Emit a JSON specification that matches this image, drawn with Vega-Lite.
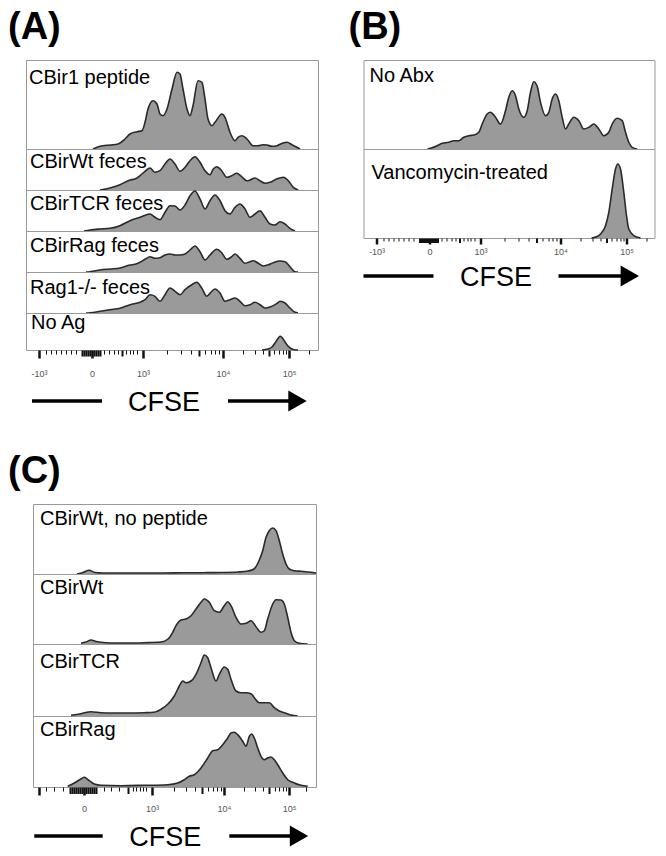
{
"$schema": "https://vega.github.io/schema/vega-lite/v6.json",
"background": "white",
"padding": {"left": 8, "top": 8, "right": 4, "bottom": 0},
"config": {"font": "Liberation Sans", "view": {"stroke": "#999999", "strokeWidth": 1}},
"datasets": {
"A1": [{"channel":67,"count":0},{"channel":74,"count":2.7},{"channel":84,"count":4},{"channel":92,"count":5},{"channel":99,"count":10},{"channel":104,"count":15},{"channel":111,"count":17.3},{"channel":116,"count":18.3},{"channel":119,"count":26.7},{"channel":122,"count":40},{"channel":127,"count":48.3},{"channel":131,"count":45},{"channel":134,"count":35},{"channel":137,"count":33.3},{"channel":141,"count":40},{"channel":146,"count":60},{"channel":151,"count":76.7},{"channel":154,"count":75},{"channel":157,"count":60},{"channel":161,"count":40},{"channel":164,"count":33.3},{"channel":167,"count":43.3},{"channel":172,"count":68.3},{"channel":176,"count":66.7},{"channel":179,"count":50},{"channel":182,"count":30},{"channel":186,"count":23.3},{"channel":189,"count":26.7},{"channel":196,"count":35},{"channel":199,"count":31.7},{"channel":204,"count":16.7},{"channel":209,"count":8.3},{"channel":212,"count":11.7},{"channel":216,"count":13.3},{"channel":221,"count":10},{"channel":227,"count":3.3},{"channel":232,"count":3.3},{"channel":237,"count":4.3},{"channel":241,"count":4},{"channel":246,"count":2.7},{"channel":251,"count":3.3},{"channel":257,"count":6},{"channel":261,"count":6.7},{"channel":266,"count":4.3},{"channel":271,"count":1.7},{"channel":274,"count":0}],
"A2": [{"channel":74,"count":0},{"channel":84,"count":2},{"channel":94,"count":5.3},{"channel":104,"count":10},{"channel":109,"count":11},{"channel":114,"count":14.3},{"channel":119,"count":18.7},{"channel":124,"count":22},{"channel":129,"count":17.7},{"channel":134,"count":19.3},{"channel":139,"count":26},{"channel":144,"count":31},{"channel":149,"count":26},{"channel":154,"count":18.7},{"channel":159,"count":22.7},{"channel":164,"count":29.3},{"channel":169,"count":33.3},{"channel":174,"count":27.7},{"channel":179,"count":19.3},{"channel":184,"count":15.3},{"channel":187.3,"count":21},{"channel":190.7,"count":23.3},{"channel":195.7,"count":19.3},{"channel":200.7,"count":12.7},{"channel":205.7,"count":14.3},{"channel":210.7,"count":16.7},{"channel":215.7,"count":13.3},{"channel":220.7,"count":9.3},{"channel":224,"count":10},{"channel":229,"count":12},{"channel":234,"count":9.3},{"channel":239,"count":6.7},{"channel":244,"count":7.7},{"channel":250.7,"count":11},{"channel":257.3,"count":12.7},{"channel":262.3,"count":9.3},{"channel":267.3,"count":2.7},{"channel":272.3,"count":0}],
"A3": [{"channel":58,"count":0},{"channel":64,"count":1},{"channel":74,"count":2},{"channel":84,"count":2.7},{"channel":94,"count":5.3},{"channel":104,"count":10.3},{"channel":114,"count":13.7},{"channel":124,"count":17},{"channel":129,"count":13.7},{"channel":134,"count":11.3},{"channel":139,"count":18.7},{"channel":144,"count":25.3},{"channel":149,"count":25},{"channel":154,"count":21},{"channel":159,"count":26},{"channel":164,"count":35.3},{"channel":169,"count":40},{"channel":174,"count":32},{"channel":179,"count":22},{"channel":184,"count":30.3},{"channel":189,"count":36},{"channel":194,"count":30.3},{"channel":199,"count":20.3},{"channel":204,"count":17},{"channel":209,"count":23.7},{"channel":214,"count":27},{"channel":219,"count":22},{"channel":224,"count":13.7},{"channel":229,"count":17},{"channel":234,"count":20.3},{"channel":239,"count":13.7},{"channel":244,"count":7},{"channel":249,"count":6},{"channel":254,"count":9.3},{"channel":259,"count":7},{"channel":264,"count":2.7},{"channel":269,"count":0}],
"A4": [{"channel":60,"count":0},{"channel":64,"count":0.3},{"channel":74,"count":2},{"channel":84,"count":3},{"channel":94,"count":4},{"channel":104,"count":7},{"channel":109,"count":7.7},{"channel":114,"count":9.7},{"channel":119,"count":12.7},{"channel":124,"count":15.3},{"channel":129,"count":13.7},{"channel":134,"count":14.3},{"channel":139,"count":17},{"channel":144,"count":18},{"channel":149,"count":17},{"channel":154,"count":17},{"channel":159,"count":18},{"channel":164,"count":22},{"channel":169,"count":26},{"channel":174,"count":20.3},{"channel":179,"count":12},{"channel":184,"count":17},{"channel":190.7,"count":22.7},{"channel":195.7,"count":19.3},{"channel":200.7,"count":12.7},{"channel":205.7,"count":15.3},{"channel":209,"count":18},{"channel":214,"count":13.7},{"channel":219,"count":8.7},{"channel":224,"count":10.3},{"channel":227.3,"count":11.3},{"channel":232.3,"count":8.7},{"channel":237.3,"count":6},{"channel":242.3,"count":7.3},{"channel":247.3,"count":9.3},{"channel":254,"count":11},{"channel":259,"count":10.3},{"channel":264,"count":5.3},{"channel":269,"count":0.3},{"channel":272,"count":0}],
"A5": [{"channel":60,"count":0},{"channel":64,"count":0.3},{"channel":74,"count":1.7},{"channel":84,"count":3.3},{"channel":94,"count":4.7},{"channel":104,"count":8.3},{"channel":114,"count":10.7},{"channel":119,"count":13.3},{"channel":124,"count":18.3},{"channel":129,"count":16.7},{"channel":134,"count":11.7},{"channel":139,"count":18.3},{"channel":144,"count":25},{"channel":149,"count":21.7},{"channel":154,"count":18.3},{"channel":159,"count":23.3},{"channel":165.7,"count":28.3},{"channel":170.7,"count":30.7},{"channel":175.7,"count":25},{"channel":180.7,"count":16.7},{"channel":185.7,"count":21.7},{"channel":189,"count":24},{"channel":194,"count":20},{"channel":199,"count":11.7},{"channel":204,"count":13.3},{"channel":209,"count":15},{"channel":214,"count":11.7},{"channel":219,"count":7.3},{"channel":224,"count":8.3},{"channel":229,"count":10.7},{"channel":234,"count":8.3},{"channel":239,"count":5},{"channel":244,"count":6},{"channel":250.7,"count":9.3},{"channel":254,"count":11.7},{"channel":259,"count":10},{"channel":264,"count":5},{"channel":269,"count":0.7},{"channel":272,"count":0}],
"A6": [{"channel":236,"count":0},{"channel":242,"count":1},{"channel":246,"count":3},{"channel":249,"count":7},{"channel":252,"count":11.5},{"channel":254,"count":13.7},{"channel":256,"count":12.5},{"channel":259,"count":8},{"channel":262,"count":4},{"channel":265,"count":1.5},{"channel":268,"count":0.3},{"channel":272,"count":0}],
"B1": [{"channel":64,"count":0},{"channel":67,"count":0.7},{"channel":73.7,"count":3.3},{"channel":78.7,"count":5.7},{"channel":85.3,"count":6.7},{"channel":90.3,"count":8.3},{"channel":95.3,"count":8.3},{"channel":100.3,"count":11.7},{"channel":105.3,"count":13.3},{"channel":110.3,"count":14},{"channel":115.3,"count":16.7},{"channel":118.7,"count":25},{"channel":123.7,"count":35},{"channel":127,"count":36.7},{"channel":132,"count":31.7},{"channel":137,"count":25},{"channel":142,"count":38.3},{"channel":145.3,"count":51.7},{"channel":148.7,"count":58.3},{"channel":152,"count":53.3},{"channel":155.3,"count":40},{"channel":160.3,"count":31.7},{"channel":163.7,"count":38.3},{"channel":167,"count":56.7},{"channel":170.3,"count":67.3},{"channel":173.7,"count":62.7},{"channel":177,"count":46.7},{"channel":182,"count":33.3},{"channel":185.3,"count":36.7},{"channel":188.7,"count":50},{"channel":192,"count":55},{"channel":195.3,"count":48.3},{"channel":198.7,"count":31.7},{"channel":202,"count":20},{"channel":205.3,"count":25},{"channel":210.3,"count":31.7},{"channel":215.3,"count":28.3},{"channel":220.3,"count":20},{"channel":225.3,"count":21.7},{"channel":230.3,"count":25},{"channel":235.3,"count":20},{"channel":240.3,"count":13.3},{"channel":245.3,"count":16.7},{"channel":248.7,"count":25},{"channel":253.7,"count":30.7},{"channel":258.7,"count":28.3},{"channel":262,"count":16.7},{"channel":265.3,"count":6.7},{"channel":268.7,"count":1.7},{"channel":273.7,"count":0}],
"B2": [{"channel":228,"count":0},{"channel":233.7,"count":1.5},{"channel":237,"count":4},{"channel":242,"count":12.3},{"channel":245.3,"count":25.7},{"channel":248.7,"count":49},{"channel":252,"count":69},{"channel":254.3,"count":74},{"channel":257,"count":69},{"channel":260.3,"count":45.7},{"channel":263,"count":22.3},{"channel":265.3,"count":9},{"channel":270.3,"count":2.3},{"channel":277,"count":0}],
"C1": [{"channel":44,"count":0},{"channel":50,"count":1.5},{"channel":56,"count":3.7},{"channel":62,"count":1.5},{"channel":70,"count":1},{"channel":90,"count":1},{"channel":110,"count":1},{"channel":130,"count":1},{"channel":150,"count":1.2},{"channel":170,"count":1.3},{"channel":190,"count":1.5},{"channel":205,"count":2},{"channel":215,"count":3},{"channel":221,"count":5},{"channel":226,"count":13.3},{"channel":229.7,"count":23.3},{"channel":233,"count":36.7},{"channel":236.3,"count":43.3},{"channel":239.7,"count":46},{"channel":243,"count":43.3},{"channel":246.3,"count":33.3},{"channel":249.7,"count":20},{"channel":253,"count":10},{"channel":256.3,"count":5},{"channel":261.3,"count":3.3},{"channel":268,"count":2.7},{"channel":278,"count":1.7},{"channel":283,"count":1}],
"C2": [{"channel":48,"count":0.7},{"channel":53,"count":2},{"channel":58,"count":4},{"channel":63,"count":2.5},{"channel":68,"count":1.7},{"channel":78,"count":1},{"channel":95,"count":1},{"channel":111,"count":1.3},{"channel":128,"count":2},{"channel":135,"count":5},{"channel":139.7,"count":11.7},{"channel":143,"count":18.3},{"channel":148,"count":24},{"channel":153,"count":25},{"channel":158,"count":28.3},{"channel":163,"count":35},{"channel":168,"count":41.7},{"channel":171.3,"count":45},{"channel":176.3,"count":41.7},{"channel":181.3,"count":33.3},{"channel":186.3,"count":31.7},{"channel":191.3,"count":38.3},{"channel":194.7,"count":42.3},{"channel":198,"count":38.3},{"channel":203,"count":26.7},{"channel":208,"count":20},{"channel":213,"count":20.7},{"channel":218,"count":23.3},{"channel":223,"count":17.3},{"channel":228,"count":11.7},{"channel":231.3,"count":13.3},{"channel":234.7,"count":25},{"channel":239.7,"count":40},{"channel":243,"count":44.3},{"channel":248,"count":44},{"channel":251.3,"count":40},{"channel":254.7,"count":26.7},{"channel":258,"count":11.7},{"channel":261.3,"count":3.3},{"channel":266.3,"count":0.7},{"channel":274.7,"count":0}],
"C3": [{"channel":38,"count":0.7},{"channel":48,"count":2.3},{"channel":58,"count":4.3},{"channel":68,"count":3.3},{"channel":78,"count":3},{"channel":95,"count":3},{"channel":111,"count":3.3},{"channel":121,"count":3.7},{"channel":128,"count":6.7},{"channel":134.7,"count":11.7},{"channel":141.3,"count":20},{"channel":146.3,"count":30},{"channel":149.7,"count":35},{"channel":153,"count":33.3},{"channel":158,"count":35},{"channel":163,"count":41.7},{"channel":168,"count":53.3},{"channel":171.3,"count":61},{"channel":174.7,"count":58.3},{"channel":178,"count":48.3},{"channel":183,"count":35},{"channel":186.3,"count":41.7},{"channel":191.3,"count":49},{"channel":194.7,"count":46.7},{"channel":198,"count":36.7},{"channel":203,"count":25},{"channel":208,"count":23.3},{"channel":213,"count":23.3},{"channel":218,"count":22.3},{"channel":221.3,"count":18.3},{"channel":226.3,"count":13.3},{"channel":231.3,"count":13.3},{"channel":236.3,"count":13.3},{"channel":241.3,"count":8.3},{"channel":246.3,"count":5},{"channel":251.3,"count":3.3},{"channel":258,"count":1},{"channel":264.7,"count":0}],
"C4": [{"channel":34.7,"count":0.7},{"channel":41.3,"count":4},{"channel":48,"count":8},{"channel":51.3,"count":9.7},{"channel":56.3,"count":6.3},{"channel":61.3,"count":3},{"channel":68,"count":1.7},{"channel":88,"count":1.3},{"channel":111.3,"count":1.7},{"channel":134.7,"count":2.3},{"channel":144.7,"count":4},{"channel":151.3,"count":7.3},{"channel":156.3,"count":10.7},{"channel":161.3,"count":12.3},{"channel":168,"count":19},{"channel":174.7,"count":29},{"channel":179.7,"count":36.3},{"channel":184.7,"count":37.3},{"channel":189.7,"count":42.3},{"channel":194.7,"count":49},{"channel":198,"count":54},{"channel":201.3,"count":54.7},{"channel":204.7,"count":52.3},{"channel":209.7,"count":45.7},{"channel":213,"count":40.7},{"channel":216.3,"count":50.7},{"channel":218.7,"count":53},{"channel":221.3,"count":49},{"channel":224.7,"count":39},{"channel":228,"count":30.7},{"channel":231.3,"count":27.3},{"channel":234.7,"count":29},{"channel":238,"count":30},{"channel":241.3,"count":27.3},{"channel":244.7,"count":22.3},{"channel":249.7,"count":14},{"channel":254.7,"count":7.3},{"channel":261.3,"count":4},{"channel":268,"count":1.7},{"channel":274.7,"count":0.7}]
},
"spacing": 32,
"vconcat": [
{"hconcat": [
 {"title": {"text": "(A)", "anchor": "start", "frame": "group", "dx": -18, "offset": -17, "fontSize": 38, "fontWeight": "bold", "color": "black", "baseline": "alphabetic"},
  "bounds": "flush", "spacing": 0,
  "vconcat": [
   {"width": 292, "height": 89, "data": {"name": "A1"},
    "layer": [
     {"mark": {"type": "area", "interpolate": "monotone", "color": "#9a9a9a"}, "encoding": {"x": {"field": "channel", "type": "quantitative", "scale": {"domain": [0, 292], "nice": false}, "axis": null}, "y": {"field": "count", "type": "quantitative", "scale": {"domain": [0, 89], "nice": false}, "axis": null}}},
     {"mark": {"type": "line", "interpolate": "monotone", "color": "#2a2a2a", "strokeWidth": 1.6}, "encoding": {"x": {"field": "channel", "type": "quantitative", "axis": null}, "y": {"field": "count", "type": "quantitative", "axis": null}}},
     {"transform": [{"aggregate": [{"op": "count", "as": "n"}]}], "mark": {"type": "text", "text": "CBir1 peptide", "align": "left", "baseline": "alphabetic", "fontSize": 20, "color": "black"}, "encoding": {"x": {"datum": 3, "axis": null}, "y": {"datum": 65, "axis": null}}}
    ]},
   {"width": 292, "height": 41, "data": {"name": "A2"},
    "layer": [
     {"mark": {"type": "area", "interpolate": "monotone", "color": "#9a9a9a"}, "encoding": {"x": {"field": "channel", "type": "quantitative", "scale": {"domain": [0, 292], "nice": false}, "axis": null}, "y": {"field": "count", "type": "quantitative", "scale": {"domain": [0, 41], "nice": false}, "axis": null}}},
     {"mark": {"type": "line", "interpolate": "monotone", "color": "#2a2a2a", "strokeWidth": 1.6}, "encoding": {"x": {"field": "channel", "type": "quantitative", "axis": null}, "y": {"field": "count", "type": "quantitative", "axis": null}}},
     {"transform": [{"aggregate": [{"op": "count", "as": "n"}]}], "mark": {"type": "text", "text": "CBirWt feces", "align": "left", "baseline": "alphabetic", "fontSize": 20, "color": "black"}, "encoding": {"x": {"datum": 4, "axis": null}, "y": {"datum": 22.5, "axis": null}}}
    ]},
   {"width": 292, "height": 41, "data": {"name": "A3"},
    "layer": [
     {"mark": {"type": "area", "interpolate": "monotone", "color": "#9a9a9a"}, "encoding": {"x": {"field": "channel", "type": "quantitative", "scale": {"domain": [0, 292], "nice": false}, "axis": null}, "y": {"field": "count", "type": "quantitative", "scale": {"domain": [0, 41], "nice": false}, "axis": null}}},
     {"mark": {"type": "line", "interpolate": "monotone", "color": "#2a2a2a", "strokeWidth": 1.6}, "encoding": {"x": {"field": "channel", "type": "quantitative", "axis": null}, "y": {"field": "count", "type": "quantitative", "axis": null}}},
     {"transform": [{"aggregate": [{"op": "count", "as": "n"}]}], "mark": {"type": "text", "text": "CBirTCR feces", "align": "left", "baseline": "alphabetic", "fontSize": 20, "color": "black"}, "encoding": {"x": {"datum": 4, "axis": null}, "y": {"datum": 21, "axis": null}}}
    ]},
   {"width": 292, "height": 41, "data": {"name": "A4"},
    "layer": [
     {"mark": {"type": "area", "interpolate": "monotone", "color": "#9a9a9a"}, "encoding": {"x": {"field": "channel", "type": "quantitative", "scale": {"domain": [0, 292], "nice": false}, "axis": null}, "y": {"field": "count", "type": "quantitative", "scale": {"domain": [0, 41], "nice": false}, "axis": null}}},
     {"mark": {"type": "line", "interpolate": "monotone", "color": "#2a2a2a", "strokeWidth": 1.6}, "encoding": {"x": {"field": "channel", "type": "quantitative", "axis": null}, "y": {"field": "count", "type": "quantitative", "axis": null}}},
     {"transform": [{"aggregate": [{"op": "count", "as": "n"}]}], "mark": {"type": "text", "text": "CBirRag feces", "align": "left", "baseline": "alphabetic", "fontSize": 20, "color": "black"}, "encoding": {"x": {"datum": 4, "axis": null}, "y": {"datum": 20, "axis": null}}}
    ]},
   {"width": 292, "height": 41, "data": {"name": "A5"},
    "layer": [
     {"mark": {"type": "area", "interpolate": "monotone", "color": "#9a9a9a"}, "encoding": {"x": {"field": "channel", "type": "quantitative", "scale": {"domain": [0, 292], "nice": false}, "axis": null}, "y": {"field": "count", "type": "quantitative", "scale": {"domain": [0, 41], "nice": false}, "axis": null}}},
     {"mark": {"type": "line", "interpolate": "monotone", "color": "#2a2a2a", "strokeWidth": 1.6}, "encoding": {"x": {"field": "channel", "type": "quantitative", "axis": null}, "y": {"field": "count", "type": "quantitative", "axis": null}}},
     {"transform": [{"aggregate": [{"op": "count", "as": "n"}]}], "mark": {"type": "text", "text": "Rag1-/- feces", "align": "left", "baseline": "alphabetic", "fontSize": 20, "color": "black"}, "encoding": {"x": {"datum": 4, "axis": null}, "y": {"datum": 19.5, "axis": null}}}
    ]},
   {"width": 292, "height": 37, "data": {"name": "A6"}, "resolve": {"axis": {"x": "independent"}},
    "layer": [
     {"mark": {"type": "area", "interpolate": "monotone", "color": "#9a9a9a"},
      "encoding": {"x": {"field": "channel", "type": "quantitative", "scale": {"domain": [0, 292], "nice": false},
        "axis": {"orient": "bottom", "values": [13,66,117,197,263], "labelExpr": "datum.value == 13 ? '-10³' : datum.value == 66 ? '0' : datum.value == 117 ? '10³' : datum.value == 197 ? '10⁴' : '10⁵'", "tickSize": 8, "tickWidth": 2.5, "tickColor": "#111111", "domain": false, "grid": false, "title": null, "labelFontSize": 9, "labelColor": "#555555", "labelPadding": 11, "labelOverlap": false, "labelFlush": false, "labelBound": false, "labelAngle": 0}},
       "y": {"field": "count", "type": "quantitative", "scale": {"domain": [0, 37], "nice": false}, "axis": null}}},
     {"mark": {"type": "line", "interpolate": "monotone", "color": "#2a2a2a", "strokeWidth": 1.6},
      "encoding": {"x": {"field": "channel", "type": "quantitative",
        "axis": {"orient": "bottom", "values": [20,25,30,35,40,45,50,78,83,88,92,100,104,107,111,141.1,155.2,165.2,179.3,184.6,189.3,193.3,216.9,228.5,236.7,248.4,252.8,256.6,260,282.9], "labels": false, "tickSize": 4, "tickWidth": 1, "tickColor": "#111111", "domain": false, "grid": false, "title": null}},
       "y": {"field": "count", "type": "quantitative", "axis": null}}},
     {"transform": [{"aggregate": [{"op": "count", "as": "n"}]}], "mark": {"type": "text", "text": "No Ag", "align": "left", "baseline": "alphabetic", "fontSize": 20, "color": "black"},
      "encoding": {"x": {"datum": 5, "axis": {"orient": "bottom", "values": [56,58,60,62,64,68,70,72,74,96,172.9,243.1], "labels": false, "tickSize": 6, "tickWidth": 2, "tickColor": "#111111", "domain": false, "grid": false, "title": null}}, "y": {"datum": 21, "axis": null}}}
    ]},
   {"width": 292, "height": 70, "view": {"stroke": null}, "data": {"values": [{"label": "CFSE"}]},
    "layer": [
     {"mark": {"type": "rule", "strokeWidth": 3.5, "color": "black"}, "encoding": {"x": {"datum": 6, "scale": {"domain": [0, 292], "nice": false}, "axis": null}, "x2": {"datum": 76}, "y": {"datum": 51, "scale": {"domain": [0, 70], "nice": false, "reverse": true}, "axis": null}}},
     {"mark": {"type": "rule", "strokeWidth": 3.5, "color": "black"}, "encoding": {"x": {"datum": 202, "axis": null}, "x2": {"datum": 271}, "y": {"datum": 51, "axis": null}}},
     {"mark": {"type": "point", "shape": "triangle-right", "filled": true, "color": "black", "opacity": 1, "size": 450}, "encoding": {"x": {"datum": 271.5, "axis": null}, "y": {"datum": 51, "axis": null}}},
     {"mark": {"type": "text", "fontSize": 27, "align": "center", "baseline": "alphabetic", "color": "black"}, "encoding": {"text": {"field": "label"}, "x": {"datum": 138, "axis": null}, "y": {"datum": 60.7, "axis": null}}}
    ]}
  ]},
 {"title": {"text": "(B)", "anchor": "start", "frame": "group", "dx": -15, "offset": -17, "fontSize": 38, "fontWeight": "bold", "color": "black", "baseline": "alphabetic"},
  "bounds": "flush", "spacing": 0,
  "vconcat": [
   {"width": 291, "height": 89, "data": {"name": "B1"},
    "layer": [
     {"mark": {"type": "area", "interpolate": "monotone", "color": "#9a9a9a"}, "encoding": {"x": {"field": "channel", "type": "quantitative", "scale": {"domain": [0, 291], "nice": false}, "axis": null}, "y": {"field": "count", "type": "quantitative", "scale": {"domain": [0, 89], "nice": false}, "axis": null}}},
     {"mark": {"type": "line", "interpolate": "monotone", "color": "#2a2a2a", "strokeWidth": 1.6}, "encoding": {"x": {"field": "channel", "type": "quantitative", "axis": null}, "y": {"field": "count", "type": "quantitative", "axis": null}}},
     {"transform": [{"aggregate": [{"op": "count", "as": "n"}]}], "mark": {"type": "text", "text": "No Abx", "align": "left", "baseline": "alphabetic", "fontSize": 20, "color": "black"}, "encoding": {"x": {"datum": 6, "axis": null}, "y": {"datum": 67, "axis": null}}}
    ]},
   {"width": 291, "height": 89, "data": {"name": "B2"}, "resolve": {"axis": {"x": "independent"}},
    "layer": [
     {"mark": {"type": "area", "interpolate": "monotone", "color": "#9a9a9a"},
      "encoding": {"x": {"field": "channel", "type": "quantitative", "scale": {"domain": [0, 291], "nice": false},
        "axis": {"orient": "bottom", "values": [13,66,117,197,263], "labelExpr": "datum.value == 13 ? '-10³' : datum.value == 66 ? '0' : datum.value == 117 ? '10³' : datum.value == 197 ? '10⁴' : '10⁵'", "tickSize": 6, "tickWidth": 2.5, "tickColor": "#111111", "domain": false, "grid": false, "title": null, "labelFontSize": 9, "labelColor": "#555555", "labelPadding": 3, "labelOverlap": false, "labelFlush": false, "labelBound": false, "labelAngle": 0}},
       "y": {"field": "count", "type": "quantitative", "scale": {"domain": [0, 89], "nice": false}, "axis": null}}},
     {"mark": {"type": "line", "interpolate": "monotone", "color": "#2a2a2a", "strokeWidth": 1.6},
      "encoding": {"x": {"field": "channel", "type": "quantitative",
        "axis": {"orient": "bottom", "values": [20,25,30,35,40,45,50,78,83,88,92,100,104,107,111,141.1,155.2,165.2,179.3,184.6,189.3,193.3,216.9,228.5,236.7,248.4,252.8,256.6,260,282.9], "labels": false, "tickSize": 3, "tickWidth": 1, "tickColor": "#111111", "domain": false, "grid": false, "title": null}},
       "y": {"field": "count", "type": "quantitative", "axis": null}}},
     {"transform": [{"aggregate": [{"op": "count", "as": "n"}]}], "mark": {"type": "text", "text": "Vancomycin-treated", "align": "left", "baseline": "alphabetic", "fontSize": 20, "color": "black"},
      "encoding": {"x": {"datum": 8, "axis": {"orient": "bottom", "values": [56,58,60,62,64,68,70,72,74,96,172.9,243.1], "labels": false, "tickSize": 4.5, "tickWidth": 2, "tickColor": "#111111", "domain": false, "grid": false, "title": null}}, "y": {"datum": 59, "axis": null}}}
    ]},
   {"width": 291, "height": 70, "view": {"stroke": null}, "data": {"values": [{"label": "CFSE"}]},
    "layer": [
     {"mark": {"type": "rule", "strokeWidth": 3.5, "color": "black"}, "encoding": {"x": {"datum": 0, "scale": {"domain": [0, 291], "nice": false}, "axis": null}, "x2": {"datum": 70}, "y": {"datum": 38, "scale": {"domain": [0, 70], "nice": false, "reverse": true}, "axis": null}}},
     {"mark": {"type": "rule", "strokeWidth": 3.5, "color": "black"}, "encoding": {"x": {"datum": 195, "axis": null}, "x2": {"datum": 266}, "y": {"datum": 38, "axis": null}}},
     {"mark": {"type": "point", "shape": "triangle-right", "filled": true, "color": "black", "opacity": 1, "size": 450}, "encoding": {"x": {"datum": 266.3, "axis": null}, "y": {"datum": 38, "axis": null}}},
     {"mark": {"type": "text", "fontSize": 27, "align": "center", "baseline": "alphabetic", "color": "black"}, "encoding": {"text": {"field": "label"}, "x": {"datum": 132.5, "axis": null}, "y": {"datum": 47.7, "axis": null}}}
    ]}
  ]}
 ], "spacing": 29.5},
{"title": {"text": "(C)", "anchor": "start", "frame": "group", "dx": -18, "offset": -17, "fontSize": 38, "fontWeight": "bold", "color": "black", "baseline": "alphabetic"},
 "spacing": 5,
 "hconcat": [
  {"width": 1, "height": 1, "view": {"stroke": null}, "data": {"values": []}, "mark": {"type": "point", "opacity": 0}},
  {"bounds": "flush", "spacing": 0,
  "vconcat": [
   {"width": 283, "height": 70, "data": {"name": "C1"},
    "layer": [
     {"mark": {"type": "area", "interpolate": "monotone", "color": "#9a9a9a"}, "encoding": {"x": {"field": "channel", "type": "quantitative", "scale": {"domain": [0, 283], "nice": false}, "axis": null}, "y": {"field": "count", "type": "quantitative", "scale": {"domain": [0, 70], "nice": false}, "axis": null}}},
     {"mark": {"type": "line", "interpolate": "monotone", "color": "#2a2a2a", "strokeWidth": 1.6}, "encoding": {"x": {"field": "channel", "type": "quantitative", "axis": null}, "y": {"field": "count", "type": "quantitative", "axis": null}}},
     {"transform": [{"aggregate": [{"op": "count", "as": "n"}]}], "mark": {"type": "text", "text": "CBirWt, no peptide", "align": "left", "baseline": "alphabetic", "fontSize": 20, "color": "black"}, "encoding": {"x": {"datum": 7, "axis": null}, "y": {"datum": 49, "axis": null}}}
    ]},
   {"width": 283, "height": 70, "data": {"name": "C2"},
    "layer": [
     {"mark": {"type": "area", "interpolate": "monotone", "color": "#9a9a9a"}, "encoding": {"x": {"field": "channel", "type": "quantitative", "scale": {"domain": [0, 283], "nice": false}, "axis": null}, "y": {"field": "count", "type": "quantitative", "scale": {"domain": [0, 70], "nice": false}, "axis": null}}},
     {"mark": {"type": "line", "interpolate": "monotone", "color": "#2a2a2a", "strokeWidth": 1.6}, "encoding": {"x": {"field": "channel", "type": "quantitative", "axis": null}, "y": {"field": "count", "type": "quantitative", "axis": null}}},
     {"transform": [{"aggregate": [{"op": "count", "as": "n"}]}], "mark": {"type": "text", "text": "CBirWt", "align": "left", "baseline": "alphabetic", "fontSize": 20, "color": "black"}, "encoding": {"x": {"datum": 7, "axis": null}, "y": {"datum": 50, "axis": null}}}
    ]},
   {"width": 283, "height": 72, "data": {"name": "C3"},
    "layer": [
     {"mark": {"type": "area", "interpolate": "monotone", "color": "#9a9a9a"}, "encoding": {"x": {"field": "channel", "type": "quantitative", "scale": {"domain": [0, 283], "nice": false}, "axis": null}, "y": {"field": "count", "type": "quantitative", "scale": {"domain": [0, 72], "nice": false}, "axis": null}}},
     {"mark": {"type": "line", "interpolate": "monotone", "color": "#2a2a2a", "strokeWidth": 1.6}, "encoding": {"x": {"field": "channel", "type": "quantitative", "axis": null}, "y": {"field": "count", "type": "quantitative", "axis": null}}},
     {"transform": [{"aggregate": [{"op": "count", "as": "n"}]}], "mark": {"type": "text", "text": "CBirTCR", "align": "left", "baseline": "alphabetic", "fontSize": 20, "color": "black"}, "encoding": {"x": {"datum": 7, "axis": null}, "y": {"datum": 48.5, "axis": null}}}
    ]},
   {"width": 283, "height": 71, "data": {"name": "C4"}, "resolve": {"axis": {"x": "independent"}},
    "layer": [
     {"mark": {"type": "area", "interpolate": "monotone", "color": "#9a9a9a"},
      "encoding": {"x": {"field": "channel", "type": "quantitative", "scale": {"domain": [0, 283], "nice": false},
        "axis": {"orient": "bottom", "values": [6,51,119,191,256], "labelExpr": "datum.value == 6 ? '' : datum.value == 51 ? '0' : datum.value == 119 ? '10³' : datum.value == 191 ? '10⁴' : '10⁵'", "tickSize": 8, "tickWidth": 2.5, "tickColor": "#111111", "domain": false, "grid": false, "title": null, "labelFontSize": 9, "labelColor": "#555555", "labelPadding": 9, "labelOverlap": false, "labelFlush": false, "labelBound": false, "labelAngle": 0}},
       "y": {"field": "count", "type": "quantitative", "scale": {"domain": [0, 71], "nice": false}, "axis": null}}},
     {"mark": {"type": "line", "interpolate": "monotone", "color": "#2a2a2a", "strokeWidth": 1.6},
      "encoding": {"x": {"field": "channel", "type": "quantitative",
        "axis": {"orient": "bottom", "values": [13,21,30,71,78,86,100,103,107,110,113,140.7,153.4,162.3,175,179.8,184,187.7,210.6,222,230.1,241.6,245.9,249.7,253,273], "labels": false, "tickSize": 4, "tickWidth": 1, "tickColor": "#111111", "domain": false, "grid": false, "title": null}},
       "y": {"field": "count", "type": "quantitative", "axis": null}}},
     {"transform": [{"aggregate": [{"op": "count", "as": "n"}]}], "mark": {"type": "text", "text": "CBirRag", "align": "left", "baseline": "alphabetic", "fontSize": 20, "color": "black"},
      "encoding": {"x": {"datum": 7, "axis": {"orient": "bottom", "values": [37,39,41,43,45,47,49,53,55,57,59,61,63,95,169.3,236.4], "labels": false, "tickSize": 6.5, "tickWidth": 2, "tickColor": "#111111", "domain": false, "grid": false, "title": null}}, "y": {"datum": 51, "axis": null}}}
    ]},
   {"width": 283, "height": 70, "view": {"stroke": null}, "data": {"values": [{"label": "CFSE"}]},
    "layer": [
     {"mark": {"type": "rule", "strokeWidth": 3.5, "color": "black"}, "encoding": {"x": {"datum": 1.3, "scale": {"domain": [0, 283], "nice": false}, "axis": null}, "x2": {"datum": 69.7}, "y": {"datum": 49, "scale": {"domain": [0, 70], "nice": false, "reverse": true}, "axis": null}}},
     {"mark": {"type": "rule", "strokeWidth": 3.5, "color": "black"}, "encoding": {"x": {"datum": 196.3, "axis": null}, "x2": {"datum": 266}, "y": {"datum": 49, "axis": null}}},
     {"mark": {"type": "point", "shape": "triangle-right", "filled": true, "color": "black", "opacity": 1, "size": 450}, "encoding": {"x": {"datum": 266, "axis": null}, "y": {"datum": 49, "axis": null}}},
     {"mark": {"type": "text", "fontSize": 27, "align": "center", "baseline": "alphabetic", "color": "black"}, "encoding": {"text": {"field": "label"}, "x": {"datum": 132.2, "axis": null}, "y": {"datum": 58.7, "axis": null}}}
    ]}
  ]}
 ]}
]
}
